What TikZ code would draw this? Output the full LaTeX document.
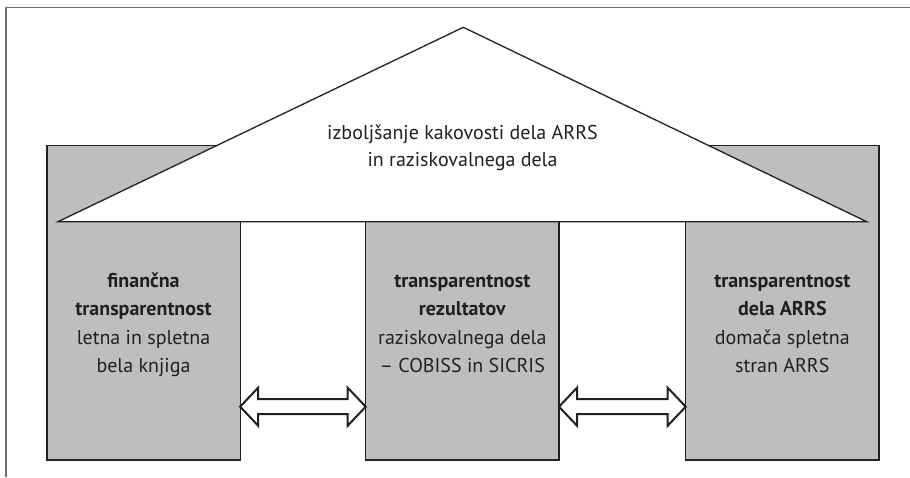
\documentclass[tikz,border=0pt]{standalone}
\usepackage{fontspec}
\setmainfont{PT Sans}
\usetikzlibrary{calc}
\definecolor{ink}{RGB}{35,31,32}
\definecolor{pillargray}{RGB}{189,190,192}
\definecolor{framegray}{RGB}{110,110,110}
\tikzset{
  pillar/.style={draw=ink, fill=pillargray, line width=1.3pt, inner sep=0pt, outer sep=0pt},
  roof/.style={draw=ink, fill=white, line width=1.3pt, line join=miter},
  ptext/.style={text=ink, align=center, inner sep=0pt, font=\fontsize{20}{28.5}\selectfont},
  rtext/.style={text=ink, align=center, inner sep=0pt, font=\fontsize{20}{26.5}\selectfont},
  dblarrow/.style={draw=ink, fill=white, line width=2pt, line join=miter},
  frameline/.style={draw=framegray, line width=1.4pt}
}
\begin{document}
\begin{tikzpicture}[x=1pt,y=-1pt]
\useasboundingbox (0,0) rectangle (910,477);
% frame
\coordinate (f0) at (6,477);
\coordinate (f1) at (6,7.3);
\coordinate (f2) at (910,7.3);
\draw[frameline] (f0) -- (f1) -- (f2);
% pillars
\node[pillar, minimum width=193.3pt, minimum height=314.3pt] (p1) at (143.5,302.85) {};
\node[pillar, minimum width=193.3pt, minimum height=238.3pt] (p2) at (462.35,340.85) {};
\node[pillar, minimum width=193.3pt, minimum height=314.3pt] (p3) at (782.35,302.85) {};
% roof
\coordinate (rl) at (58,221.7);
\coordinate (ra) at (463.3,27.3);
\coordinate (rr) at (866.7,221.7);
\draw[roof] (rl) -- (ra) -- (rr) -- cycle;
\node[rtext] (roofText) at (462.5,147.5) {\strut izboljšanje kakovosti dela ARRS\\in raziskovalnega dela\strut};
% pillar texts
\node[ptext] (t1) at (143.5,324.3) {\strut\textbf{finančna}\\\textbf{transparentnost}\\letna in spletna\\bela knjiga\strut};
\node[ptext] (t2) at (462.35,324.3) {\strut\textbf{transparentnost}\\\textbf{rezultatov}\\raziskovalnega dela\\– COBISS in SICRIS\strut};
\node[ptext] (t3) at (782.35,324.3) {\strut\textbf{transparentnost}\\\textbf{dela ARRS}\\domača spletna\\stran ARRS\strut};
% arrows
\coordinate (row) at (0,406.7);
\draw[dblarrow] (p1.east |- row) -- ++(18,-19) -- ++(0,11.5)
  -- ($(p2.west |- row)+(-18,-7.5)$) -- ++(0,-11.5) -- (p2.west |- row)
  -- ++(-18,19) -- ++(0,-11.5) -- ($(p1.east |- row)+(18,7.5)$) -- ++(0,11.5) -- cycle;
\draw[dblarrow] (p2.east |- row) -- ++(18,-19) -- ++(0,11.5)
  -- ($(p3.west |- row)+(-18,-7.5)$) -- ++(0,-11.5) -- (p3.west |- row)
  -- ++(-18,19) -- ++(0,-11.5) -- ($(p2.east |- row)+(18,7.5)$) -- ++(0,11.5) -- cycle;
\end{tikzpicture}
\end{document}
